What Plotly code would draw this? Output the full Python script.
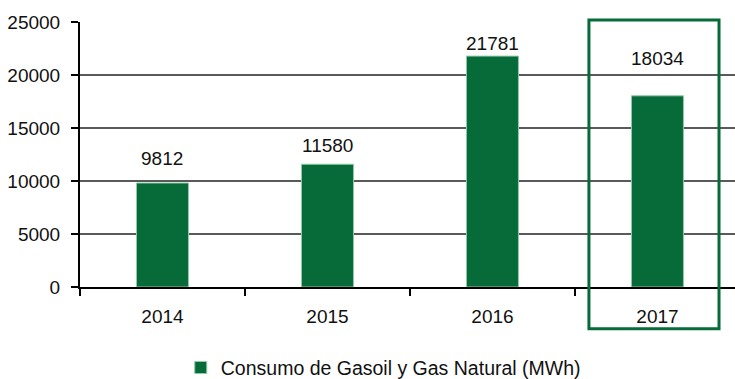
import plotly.graph_objects as go

# Annual consumption (MWh)
years = ["2014", "2015", "2016", "2017"]
consumo = [9812, 11580, 21781, 18034]
serie = "Consumo de Gasoil y Gas Natural (MWh)"
y_ticks = [0, 5000, 10000, 15000, 20000, 25000]

verde = "#066b38"
# vertical offset (px) of each value label above its bar
label_shift = [24, 19, 13, 37]

fig = go.Figure()
fig.add_trace(go.Bar(
    x=years, y=consumo, name=serie, width=0.315,
    marker=dict(color=verde, line=dict(color="#8fc9a5", width=1)),
    showlegend=True,
))

for i, (v, s) in enumerate(zip(consumo, label_shift)):
    fig.add_annotation(x=i, y=v, xref="x", yref="y", text=str(v), showarrow=False,
                       yanchor="middle", yshift=s,
                       font=dict(size=19, color="#111111"))

# highlight frame around the latest year
fig.add_shape(type="rect", xref="paper", yref="paper",
              x0=0.777, x1=0.9756, y0=-0.158, y1=1.0075,
              line=dict(color=verde, width=3), fillcolor="rgba(0,0,0,0)")

fig.update_layout(
    width=735, height=379,
    margin=dict(l=80, r=0, t=22, b=92, autoexpand=False),
    plot_bgcolor="white", paper_bgcolor="white",
    font=dict(family="Liberation Sans, Arial, sans-serif", size=19, color="#111111"),
    bargap=0.6,
    legend=dict(orientation="h", x=0.463, xanchor="center", y=-0.305, yanchor="middle",
                font=dict(size=19.5)),
    xaxis=dict(type="category", range=[-0.5, 3.47], showline=True, linecolor="black",
               linewidth=2, ticks="outside", tickson="boundaries", ticklen=7, tickwidth=2,
               tickcolor="black", showgrid=False, zeroline=False, ticklabelstandoff=11),
    yaxis=dict(range=[0, 25000], tickvals=y_ticks, tickformat="d", showline=True,
               linecolor="black", linewidth=2, ticks="outside", ticklen=7, tickwidth=2,
               tickcolor="black", showgrid=True, gridcolor="#5a5a5a", gridwidth=1.5,
               zeroline=False, ticklabelstandoff=7),
)

fig.write_html("out.html")
